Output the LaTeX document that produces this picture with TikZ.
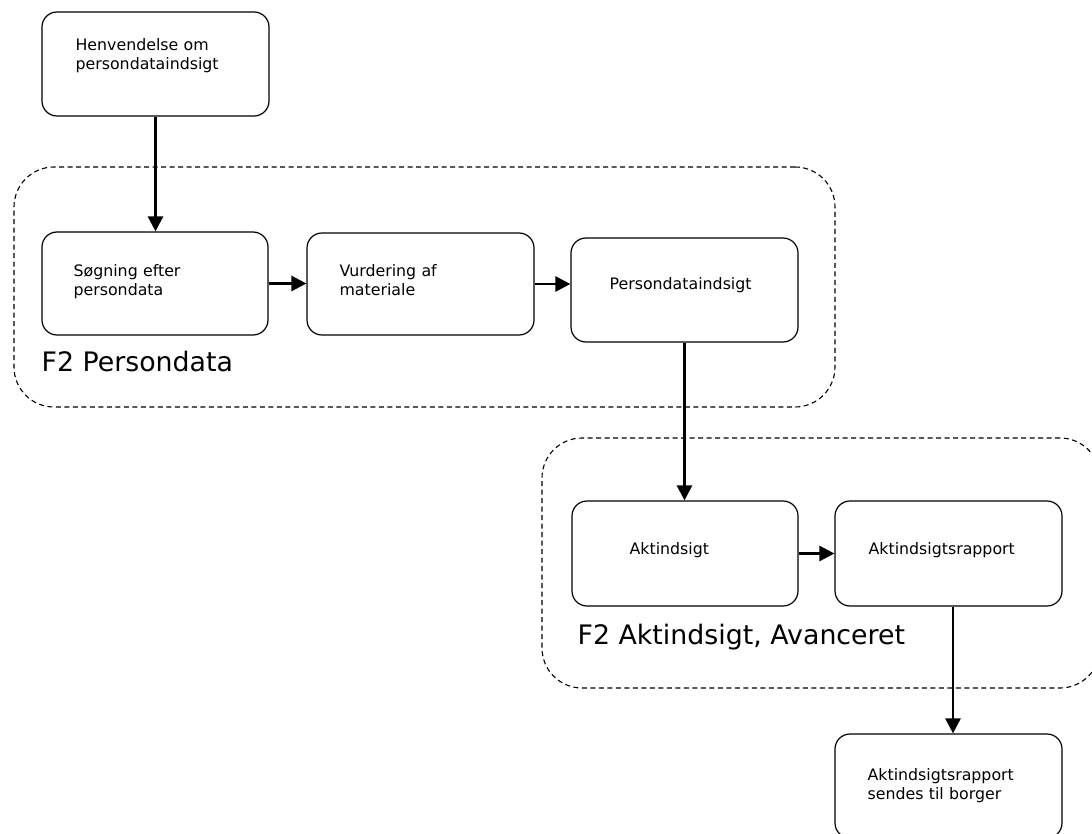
\documentclass[tikz,border=0pt]{standalone}
\usepackage{fontspec}
\setmainfont{DejaVu Sans}
\usetikzlibrary{arrows.meta}
\begin{document}
\begin{tikzpicture}[x=1pt,y=-1pt,
  box/.style={draw, line width=1.2pt, rounded corners=15pt, minimum width=227pt, minimum height=104pt, inner sep=0pt},
  grp/.style={draw, dash pattern=on 5pt off 3.5pt, line width=1.1pt, rounded corners=40pt, inner sep=0pt},
  txt/.style={font=\fontsize{15.8}{19}\selectfont, anchor=base west, text width=200pt, align=left, inner sep=0pt},
  big/.style={font=\fontsize{26.8}{31}\selectfont, anchor=base west, inner sep=0pt},
  arr/.style={line width=2.6pt, -{Triangle[length=15pt,width=15pt]}}]
\useasboundingbox (0,0) rectangle (1092,834);
\clip (0,0) rectangle (1092,834);

% groups
\node[grp, minimum width=821pt, minimum height=240pt] (g1) at (424.5,287) {};
\node[grp, minimum width=558pt, minimum height=250pt] (g2) at (821,563) {};
\node[big] (g1l) at ([shift={(28,205)}]g1.north west) {F2 Persondata};
\node[big] (g2l) at ([shift={(36,207)}]g2.north west) {F2 Aktindsigt, Avanceret};

% boxes
\node[box] (b1) at (155.5,64) {};
\node[box, minimum width=226pt, minimum height=103pt] (b2) at (155,283.5) {};
\node[box, minimum height=102pt] (b3) at (420.5,284) {};
\node[box] (b4) at (684.5,290) {};
\node[box, minimum width=226pt, minimum height=105pt] (b5) at (685,553.5) {};
\node[box, minimum height=105pt] (b6) at (948.5,553.5) {};
\node[box] (b7) at (948.5,786) {};

% texts
\node[txt] (t1) at ([shift={(34,39)}]b1.north west) {Henvendelse om\\persondataindsigt};
\node[txt] (t2) at ([shift={(32,45)}]b2.north west) {Søgning efter\\persondata};
\node[txt] (t3) at ([shift={(33,44)}]b3.north west) {Vurdering af\\materiale};
\node[txt] (t4) at ([shift={(39,52)}]b4.north west) {Persondataindsigt};
\node[txt] (t5) at ([shift={(58,54)}]b5.north west) {Aktindsigt};
\node[txt] (t6) at ([shift={(34,54)}]b6.north west) {Aktindsigtsrapport};
\node[txt] (t7) at ([shift={(33,47)}]b7.north west) {Aktindsigtsrapport\\sendes til borger};

% arrows
\draw[arr] (b1.south) -- (b1.south |- b2.north);
\draw[arr] (b2.east) -- (b2.east -| b3.west);
\draw[arr] (b3.east) -- (b3.east -| b4.west);
\draw[arr] (b4.south) -- (b4.south |- b5.north);
\draw[arr] (b5.east) -- (b5.east -| b6.west);
\draw[arr] ([xshift=4.5pt]b6.south) -- ([xshift=4.5pt]b6.south |- b7.north);
\end{tikzpicture}
\end{document}
